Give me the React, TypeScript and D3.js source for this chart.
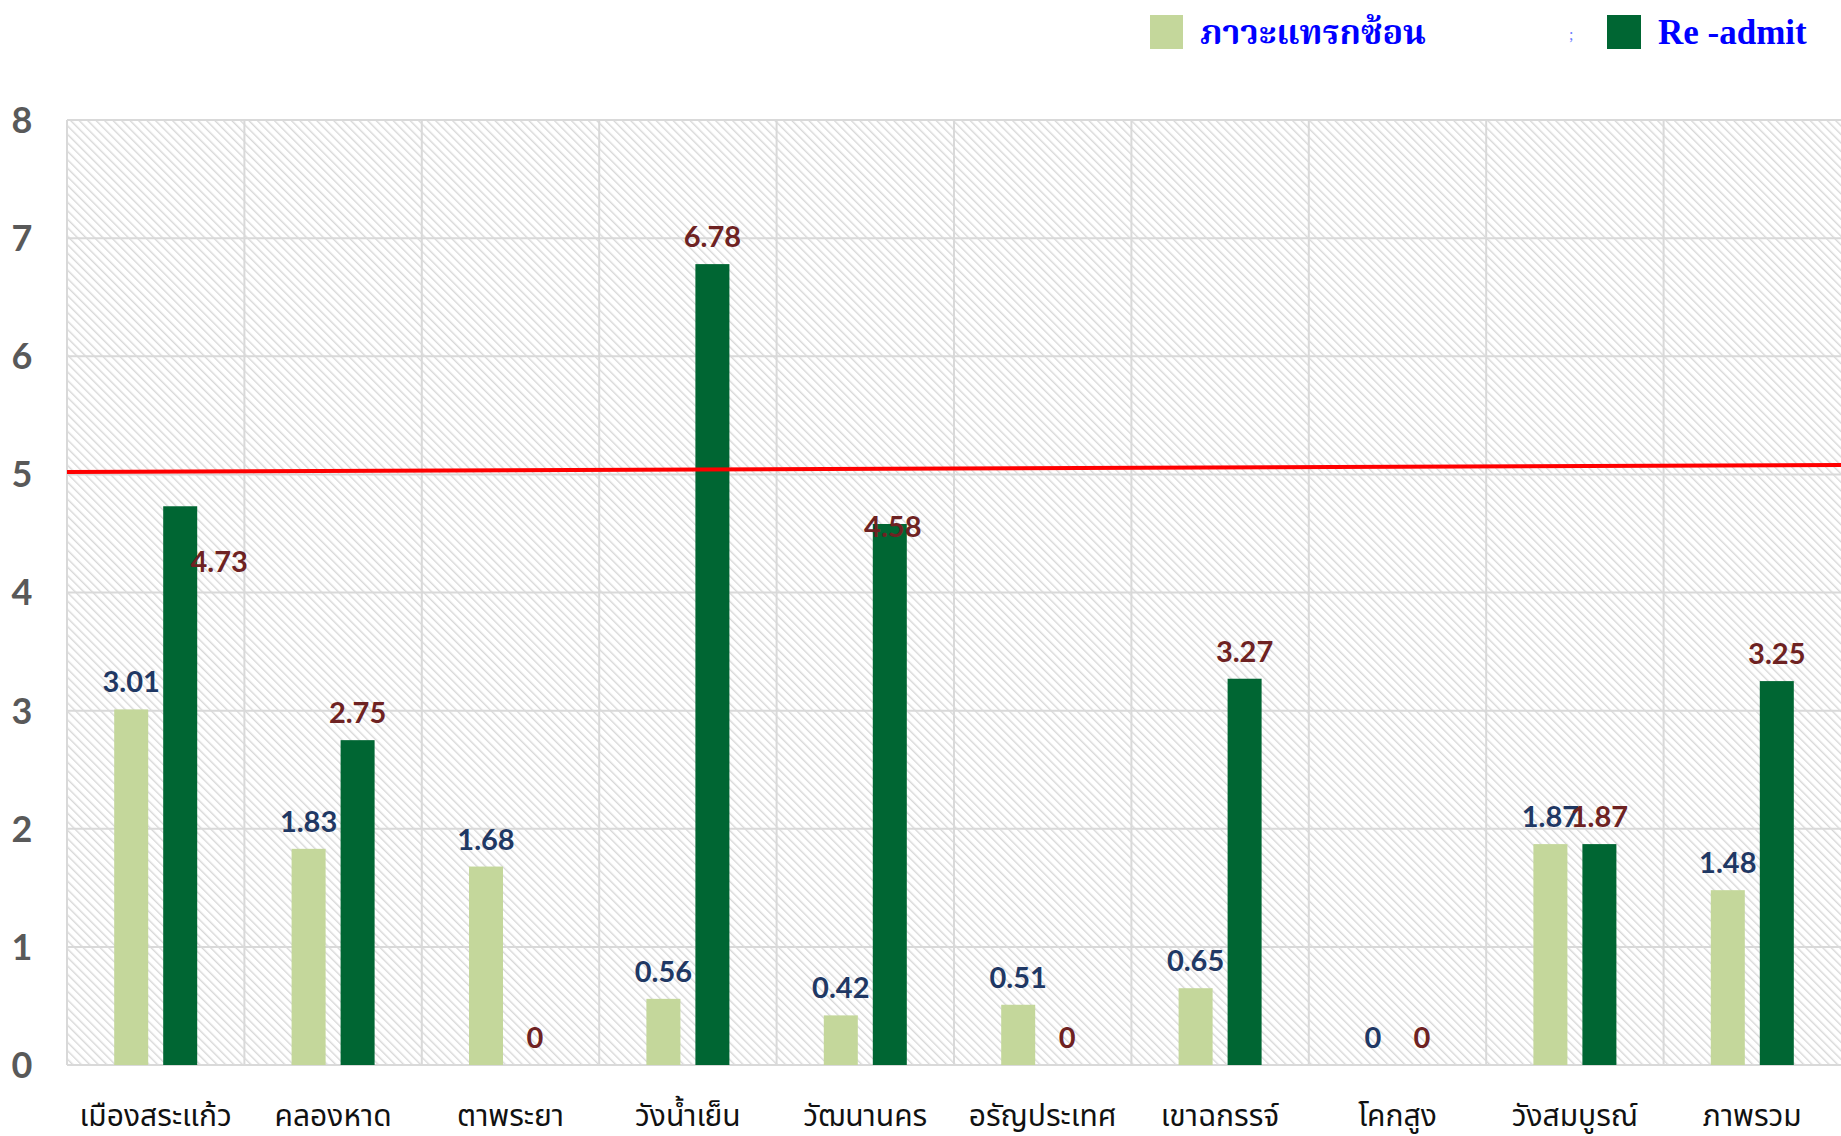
import React from "react";
import * as d3 from "d3";

const categories = [
  "เมืองสระแก้ว",
  "คลองหาด",
  "ตาพระยา",
  "วังน้ำเย็น",
  "วัฒนานคร",
  "อรัญประเทศ",
  "เขาฉกรรจ์",
  "โคกสูง",
  "วังสมบูรณ์",
  "ภาพรวม",
];
const complication = [3.01, 1.83, 1.68, 0.56, 0.42, 0.51, 0.65, 0, 1.87, 1.48];
const readmit = [4.73, 2.75, 0, 6.78, 4.58, 0, 3.27, 0, 1.87, 3.25];
const yTicks = [0, 1, 2, 3, 4, 5, 6, 7, 8];
const targetLine = [5.02, 5.08];
const seriesNames = ["ภาวะแทรกซ้อน", "Re -admit"];

const W = 1841;
const H = 1136;
const LEFT = 67;
const RIGHT = 1841;
const TOP = 120;
const BOTTOM = 1065;

const LIGHT = "#c4d79b";
const DARK = "#006633";
const BLUE_LBL = "#1f3864";
const RED_LBL = "#6e2222";
const GRID = "#d9d9d9";
const NUM_FONT = "Lato, 'Open Sans', sans-serif";
const THAI_FONT = "'Noto Sans Thai', 'Noto Sans', sans-serif";

// manual label nudges (Excel hand-placed labels)
const darkLabelNudge: Record<number, [number, number]> = {
  0: [39, 83],
  4: [3, 30],
};

export default function App() {
  const x = d3.scaleBand<string>().domain(categories).range([LEFT, RIGHT]).paddingInner(0).paddingOuter(0);
  const bw = x.bandwidth();
  const sub = d3
    .scaleBand<string>()
    .domain(["a", "b"])
    .range([bw / 2 - 41.5, bw / 2 + 41.5])
    .paddingInner(15 / 49)
    .paddingOuter(0);
  const y = d3.scaleLinear().domain([0, 8]).range([BOTTOM, TOP]);
  const lineX = d3.scaleLinear().domain([0, 1]).range([LEFT, RIGHT]);
  const line = d3
    .line<number>()
    .x((_, i) => lineX(i))
    .y((d) => y(d));

  return (
    <svg
      width={W}
      height={H}
      style={{ position: "absolute", left: 0, top: 0, display: "block", background: "#fff" }}
    >
      <defs>
        <pattern id="hatch" width="6" height="6" patternUnits="userSpaceOnUse" patternTransform="rotate(-45)">
          <rect width="6" height="6" fill="#ffffff" />
          <line x1="0" y1="0" x2="0" y2="6" stroke="#d8d8d8" strokeWidth="2.8" />
        </pattern>
      </defs>
      <rect x={LEFT} y={TOP} width={RIGHT - LEFT} height={BOTTOM - TOP} fill="url(#hatch)" />

      {/* grid */}
      {yTicks.map((t) => (
        <line key={"h" + t} x1={LEFT} x2={RIGHT} y1={y(t)} y2={y(t)} stroke={GRID} strokeWidth={2} />
      ))}
      {categories.map((c) => (
        <line key={"v" + c} x1={x(c)!} x2={x(c)!} y1={TOP} y2={BOTTOM} stroke={GRID} strokeWidth={2} />
      ))}

      {/* y tick labels */}
      {yTicks.map((t) => (
        <text
          key={"yt" + t}
          x={22}
          y={y(t)}
          dy="0.36em"
          textAnchor="middle"
          fontFamily={NUM_FONT}
          fontWeight={700}
          fontSize={36}
          fill="#595959"
        >
          {t}
        </text>
      ))}

      {/* bars */}
      {categories.map((c, i) => (
        <g key={"b" + c} transform={`translate(${x(c)},0)`}>
          <rect x={sub("a")} width={sub.bandwidth()} y={y(complication[i])} height={y(0) - y(complication[i])} fill={LIGHT} />
          <rect x={sub("b")} width={sub.bandwidth()} y={y(readmit[i])} height={y(0) - y(readmit[i])} fill={DARK} />
        </g>
      ))}

      {/* target line */}
      <path d={line(targetLine) || ""} stroke="#ff0000" strokeWidth={4} fill="none" />

      {/* value labels */}
      {categories.map((c, i) => {
        const nudge = darkLabelNudge[i] || [0, 0];
        return (
          <g key={"l" + c} transform={`translate(${x(c)},0)`} fontFamily={NUM_FONT} fontWeight={700} fontSize={29}>
            <text x={sub("a")! + sub.bandwidth() / 2} y={y(complication[i]) - 17} textAnchor="middle" fill={BLUE_LBL}>
              {complication[i]}
            </text>
            <text
              x={sub("b")! + sub.bandwidth() / 2 + nudge[0]}
              y={y(readmit[i]) - 17 + nudge[1]}
              textAnchor="middle"
              fill={RED_LBL}
            >
              {readmit[i]}
            </text>
          </g>
        );
      })}

      {/* category labels */}
      {categories.map((c) => (
        <text
          key={"c" + c}
          x={x(c)! + bw / 2}
          y={1126}
          textAnchor="middle"
          fontFamily={THAI_FONT}
          fontSize={30}
          fill="#111"
        >
          {c}
        </text>
      ))}

      {/* legend */}
      <rect x={1150} y={15} width={33} height={34} fill={LIGHT} />
      <text x={1200} y={44} fontFamily="'Liberation Serif', 'Noto Serif Thai', serif" fontWeight={700} fontSize={34} fill="#0000ff">
        {seriesNames[0]}
      </text>
      <text x={1569} y={40} fontFamily="'Liberation Serif', serif" fontSize={16} fill="#6b7bff">
        ;
      </text>
      <rect x={1607} y={15} width={34} height={34} fill={DARK} />
      <text x={1658} y={44} fontFamily="'Liberation Serif', serif" fontWeight={700} fontSize={35} fill="#0000ff">
        {seriesNames[1]}
      </text>
    </svg>
  );
}
